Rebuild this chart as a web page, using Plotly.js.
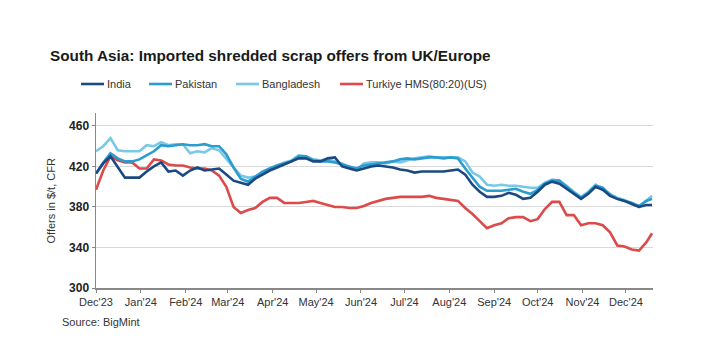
<!DOCTYPE html>
<html>
<head>
<meta charset="utf-8">
<script src="https://cdn.plot.ly/plotly-3.0.1.min.js"></script>
<style>
html,body{margin:0;padding:0;background:#fff;}
#chart{width:717px;height:358px;}
</style>
</head>
<body>
<div id="chart"></div>
<script>
const dates = [
 '2023-12-01','2023-12-06','2023-12-11','2023-12-16','2023-12-21','2023-12-26','2023-12-31',
 '2024-01-05','2024-01-10','2024-01-15','2024-01-20','2024-01-25','2024-01-30',
 '2024-02-04','2024-02-09','2024-02-14','2024-02-19','2024-02-24','2024-02-29',
 '2024-03-05','2024-03-10','2024-03-15','2024-03-20','2024-03-25','2024-03-30',
 '2024-04-04','2024-04-09','2024-04-14','2024-04-19','2024-04-24','2024-04-29',
 '2024-05-04','2024-05-09','2024-05-14','2024-05-19','2024-05-24','2024-05-29',
 '2024-06-03','2024-06-08','2024-06-13','2024-06-18','2024-06-23','2024-06-28',
 '2024-07-03','2024-07-08','2024-07-13','2024-07-18','2024-07-23','2024-07-28',
 '2024-08-02','2024-08-07','2024-08-12','2024-08-17','2024-08-22','2024-08-27',
 '2024-09-01','2024-09-06','2024-09-11','2024-09-16','2024-09-21','2024-09-26',
 '2024-10-01','2024-10-06','2024-10-11','2024-10-16','2024-10-21','2024-10-26','2024-10-31',
 '2024-11-05','2024-11-10','2024-11-15','2024-11-20','2024-11-25','2024-11-30',
 '2024-12-05','2024-12-10','2024-12-15','2024-12-19'
];
const india = [
 413,423,430,419,409,409,409,
 415,420,424,415,416,411,
 416,419,416,417,418,412,
 406,404,402,408,412,416,
 419,422,425,428,428,425,
 425,428,429,420,418,416,
 418,420,421,420,419,417,
 416,414,415,415,415,415,
 416,417,412,402,395,390,
 390,391,394,392,388,389,
 395,402,405,403,398,393,388,
 393,400,397,391,388,386,
 383,380,382,382
];
const pakistan = [
 413,424,433,428,425,425,427,
 431,435,441,440,441,442,
 441,441,442,440,440,432,
 419,408,405,410,415,418,
 421,423,425,430,430,426,
 425,425,424,422,420,418,
 421,422,423,424,425,427,
 428,427,428,429,429,428,
 429,428,418,409,400,396,
 396,396,397,398,395,393,
 397,403,406,406,400,394,389,
 394,401,399,392,388,386,
 384,381,386,388
];
const bangladesh = [
 435,440,448,436,435,435,435,
 441,440,444,441,442,442,
 433,435,434,438,436,427,
 419,411,409,410,414,418,
 421,424,426,431,430,427,
 426,427,425,423,419,417,
 423,424,424,423,425,424,
 426,428,429,430,429,429,
 429,429,425,414,410,402,
 401,402,401,401,400,399,
 399,404,407,406,401,395,390,
 395,402,398,393,389,387,
 384,380,386,391
];
const turkiye = [
 397,416,430,426,424,424,418,
 418,427,426,422,421,421,
 419,418,418,416,411,400,
 380,374,377,379,385,389,
 389,384,384,384,385,386,
 384,382,380,380,379,379,
 381,384,386,388,389,390,
 390,390,390,391,389,388,
 387,386,379,373,366,359,
 362,364,369,370,370,366,
 368,378,385,385,372,372,362,
 364,364,362,355,342,341,
 338,337,345,354
];
const seriesNames = ['India','Pakistan','Bangladesh','Turkiye HMS(80:20)(US)'];
const seriesColors = ['#1b4a82','#2a9cd0','#78c8e6','#dc4a4a'];
const monthTicks = ['2023-12-01','2024-01-01','2024-02-01','2024-03-01','2024-04-01','2024-05-01','2024-06-01','2024-07-01','2024-08-01','2024-09-01','2024-10-01','2024-11-01','2024-12-01'];
const monthLabels = ["Dec'23","Jan'24","Feb'24","Mar'24","Apr'24","May'24","Jun'24","Jul'24","Aug'24","Sep'24","Oct'24","Nov'24","Dec'24"];
const yTicks = [300,340,380,420,460];

const allValues = [india, pakistan, bangladesh, turkiye];
const order = [3,2,1,0];
const traces = order.map(i => ({
  type: 'scatter', mode: 'lines', x: dates, y: allValues[i], name: seriesNames[i],
  showlegend: false, line: {color: seriesColors[i], width: 2.6}
}));

// manual legend geometry (pixels -> paper)
const PL = 96, PW = 557, PB = 288, PH = 175;
const px = v => (v - PL) / PW;
const py = v => (PB - v) / PH;
const legendLineStart = [81, 149, 236, 340];
const legendY = 84;
const shapes = [], annotations = [];
seriesNames.forEach((n, i) => {
  shapes.push({type: 'line', xref: 'paper', yref: 'paper',
    x0: px(legendLineStart[i]), x1: px(legendLineStart[i] + 23),
    y0: py(legendY), y1: py(legendY), line: {color: seriesColors[i], width: 2.6}});
  annotations.push({text: n, xref: 'paper', yref: 'paper', x: px(legendLineStart[i] + 24),
    y: py(legendY), xanchor: 'left', yanchor: 'middle', showarrow: false,
    font: {family: 'Liberation Sans, Arial, sans-serif', size: 11, color: '#333'}});
});

const F = 'Liberation Sans, Arial, sans-serif';
annotations.push(
  {text: 'Offers in $/t, CFR', xref: 'paper', yref: 'paper', x: px(50), y: 0.5,
   xanchor: 'center', yanchor: 'middle', textangle: -90, showarrow: false,
   font: {family: F, size: 11, color: '#333'}},
  {text: 'Source: BigMint', xref: 'paper', yref: 'paper', x: px(60), y: py(322),
   xanchor: 'left', yanchor: 'middle', showarrow: false,
   font: {family: F, size: 11, color: '#333'}}
);

const layout = {
  width: 717, height: 358,
  margin: {l: 96, r: 64, t: 113, b: 70},
  paper_bgcolor: '#fff', plot_bgcolor: '#fff',
  font: {family: F, size: 11, color: '#333'},
  title: {text: 'South Asia: Imported shredded scrap offers from UK/Europe',
    font: {family: F, size: 15.3, color: '#1a1a1a', weight: 'bold'},
    xref: 'container', yref: 'container', x: 50/717, xanchor: 'left', y: 1 - 56/358, yanchor: 'middle'},
  showlegend: false,
  xaxis: {type: 'date', range: ['2023-12-01', '2024-12-19 16:00'],
    tickvals: monthTicks, ticktext: monthLabels, ticks: 'outside', ticklen: 3,
    tickcolor: '#888', showline: true, linecolor: '#888', linewidth: 1.5,
    showgrid: false, zeroline: false, tickfont: {family: F, size: 11, color: '#333'}},
  yaxis: {range: [300, 472.8], tickvals: yTicks, ticks: 'outside', ticklen: 3,
    tickcolor: '#888', showline: true, linecolor: '#888', linewidth: 1.5,
    showgrid: true, gridcolor: '#d9d9d9', gridwidth: 1, zeroline: false,
    tickfont: {family: F, size: 12, color: '#222', weight: 'bold'}},
  shapes: shapes,
  annotations: annotations
};
Plotly.newPlot('chart', traces, layout, {displayModeBar: false, staticPlot: true});
</script>
</body>
</html>
